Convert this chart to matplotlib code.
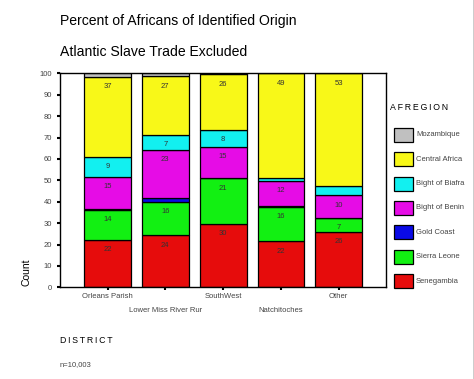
import numpy as np
import matplotlib
matplotlib.use('Agg')
import matplotlib.pyplot as plt
from matplotlib.patches import Rectangle
from matplotlib.lines import Line2D

plt.rcParams['font.family'] = ['Liberation Sans', 'DejaVu Sans']

# districts (x axis)
districts = ['Orleans Parish', 'Lower Miss River Rur', 'SouthWest', 'Natchitoches', 'Other']

# african regions, stacked bottom -> top
regions = ['Senegambia', 'Sierra Leone', 'Gold Coast', 'Bight of Benin',
           'Bight of Biafra', 'Central Africa', 'Mozambique']
colors = ['#e60c0c', '#12f012', '#0a0ae6', '#e60ce6', '#12f0f0', '#f8f818', '#c0c0c0']

# percent per district, one list per region
senegambia = [22.3, 24.3, 29.6, 21.6, 26.0]
sierra_leone = [14.0, 15.7, 21.3, 16.1, 6.6]
gold_coast = [0.5, 1.6, 0.2, 0.2, 0.0]
benin = [14.9, 22.7, 14.6, 12.0, 10.4]
biafra = [9.4, 7.0, 8.0, 1.4, 4.2]
central = [37.4, 27.3, 25.8, 48.7, 52.8]
mozambique = [1.5, 1.4, 0.5, 0.0, 0.0]

series = [senegambia, sierra_leone, gold_coast, benin, biafra, central, mozambique]

W, H = 474, 379
fig = plt.figure(figsize=(W / 100, H / 100), dpi=100)
ax = fig.add_axes([60 / W, 1 - 287.3 / H, 326 / W, 214 / H])

x = np.arange(len(districts))
bottom = np.zeros(len(districts))
for vals, col in zip(series, colors):
    vals = np.array(vals)
    ax.bar(x, vals, width=0.81, bottom=bottom, color=col, edgecolor='black', linewidth=0.9)
    for i in range(len(x)):
        if vals[i] >= 5:
            ax.annotate('%d' % round(vals[i]), xy=(x[i], bottom[i] + vals[i]),
                        xytext=(0, -10), textcoords='offset pixels',
                        ha='center', va='center', fontsize=5.5, color='#333333')
    bottom = bottom + vals

ax.set_xlim(-0.822, 4.818)
ax.set_ylim(0, 100)
ax.set_yticks(np.arange(0, 101, 10))
ax.set_xticks(x)
ax.set_xticklabels([])
ax.tick_params(axis='y', direction='out', length=2.2, width=1.5, labelsize=5.5,
               labelcolor='#444444', pad=3.5)
ax.tick_params(axis='x', direction='out', length=2.2, width=1.5)
for s in ax.spines.values():
    s.set_linewidth(1.0)

# staggered district labels
for i, name in enumerate(districts):
    off = -9.4 if i % 2 == 0 else -22.7
    ax.annotate(name, xy=(x[i], 0), xycoords=('data', 'axes fraction'),
                xytext=(0, off), textcoords='offset pixels',
                ha='center', va='center', fontsize=5.5, color='#444444')

# titles & labels
fig.text(60 / W, 1 - 20.8 / H, 'Percent of Africans of Identified Origin',
         fontsize=10.1, va='center', ha='left')
fig.text(60 / W, 1 - 52 / H, 'Atlantic Slave Trade Excluded',
         fontsize=10.1, va='center', ha='left')
fig.text(27 / W, 1 - 272 / H, 'Count', rotation=90, fontsize=7.5, va='center', ha='center')
fig.text(60 / W, 1 - 340.5 / H, '\u2009'.join('DISTRICT'), fontsize=6.3, va='center', ha='left')
fig.text(60 / W, 1 - 365 / H, 'n=10,003', fontsize=5.5, va='center', ha='left', color='#444444')

# legend (top -> bottom)
fig.text(390.5 / W, 1 - 108 / H, '\u2009'.join('AFREGION'), fontsize=6.3, va='center', ha='left')
for k, (name, col) in enumerate(zip(regions[::-1], colors[::-1])):
    cy = 134.7 + 24.4 * k
    fig.add_artist(Rectangle((394 / W, 1 - (cy + 7) / H), 19 / W, 14 / H,
                             transform=fig.transFigure, facecolor=col,
                             edgecolor='black', linewidth=0.9))
    fig.text(416 / W, 1 - cy / H, name, fontsize=5.5, va='center', ha='left', color='#444444')

# frame line on right edge
fig.add_artist(Line2D([473.5 / W, 473.5 / W], [0, 1], transform=fig.transFigure,
                      color='black', linewidth=1.0))

fig.savefig('out.png', dpi=100)
